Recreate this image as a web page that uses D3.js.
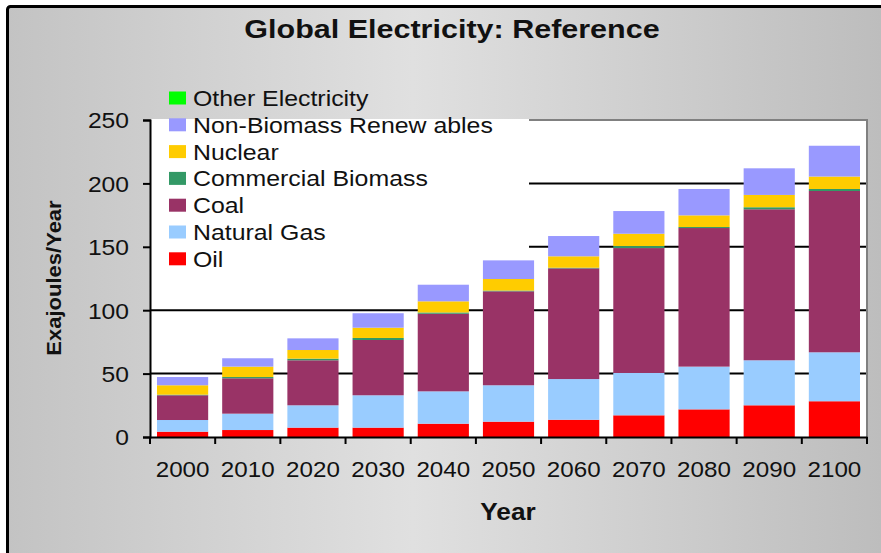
<!DOCTYPE html>
<html>
<head>
<meta charset="utf-8">
<script src="https://cdn.jsdelivr.net/npm/d3@7"></script>
<style>
  html, body { margin: 0; padding: 0; background: #ffffff; }
  svg { display: block; }
  text { font-family: "Liberation Sans", Arial, sans-serif; fill: #111; }
</style>
</head>
<body>
<svg id="chart" width="881" height="553"></svg>
<script>
// ---------- data ----------
const years = ["2000","2010","2020","2030","2040","2050","2060","2070","2080","2090","2100"];
const oil          = [4.2, 5.5, 7.4, 7.4, 10.5, 12.1, 13.6, 17.1, 21.8, 25.0, 28.2];
const naturalGas   = [9.2, 12.9, 17.6, 25.5, 25.5, 28.7, 32.1, 33.4, 33.7, 35.5, 38.6];
const coal         = [19.5, 27.9, 35.5, 43.6, 61.2, 74.1, 87.3, 98.5, 109.3, 119.1, 127.2];
const commercialBiomass = [0.5, 1.0, 1.3, 1.6, 1.0, 0.6, 0.5, 1.6, 0.8, 1.6, 1.6];
const nuclear      = [7.4, 8.2, 6.8, 8.1, 8.8, 9.1, 9.0, 9.7, 9.2, 9.7, 9.8];
const nonBiomassRenewables = [6.5, 6.6, 9.2, 11.4, 13.1, 14.7, 16.0, 17.9, 20.8, 21.0, 24.3];
const otherElectricity = [0, 0, 0, 0, 0, 0, 0, 0, 0, 0, 0];
const seriesNames  = ["Oil", "Natural Gas", "Coal", "Commercial Biomass", "Nuclear", "Non-Biomass Renew ables", "Other Electricity"];
const seriesColors = ["#FF0000", "#99CCFF", "#993366", "#339966", "#FFCC00", "#9999FF", "#00FF00"];
const yTicks = [0, 50, 100, 150, 200, 250];
const titleText = "Global Electricity: Reference";
const xTitle = "Year";
const yTitle = "Exajoules/Year";

// ---------- build ----------
const seriesValues = [oil, naturalGas, coal, commercialBiomass, nuclear, nonBiomassRenewables, otherElectricity];
const keys = seriesNames;
const rows = years.map((y, i) => {
  const r = { year: y };
  keys.forEach((k, j) => r[k] = seriesValues[j][i]);
  return r;
});
const stacked = d3.stack().keys(keys)(rows);

const svg = d3.select("#chart");
const W = 881, H = 553;
const plot = { left: 150, right: 867, top: 120, bottom: 437 };

function stretch(sel, f) {
  sel.each(function () {
    const len = this.getComputedTextLength();
    d3.select(this).attr("textLength", len * f).attr("lengthAdjust", "spacingAndGlyphs");
  });
}

// background gradient
const defs = svg.append("defs");
const grad = defs.append("linearGradient").attr("id", "bg").attr("x1", "0").attr("x2", "1").attr("y1", "0").attr("y2", "0");
grad.append("stop").attr("offset", "0%").attr("stop-color", "#c3c3c3");
grad.append("stop").attr("offset", "45%").attr("stop-color", "#e0e0e0");
grad.append("stop").attr("offset", "100%").attr("stop-color", "#bbbbbb");

svg.append("rect").attr("x", 0).attr("y", 0).attr("width", W).attr("height", H).attr("fill", "#ffffff");
svg.append("rect").attr("x", 7.5).attr("y", 6.5).attr("width", W + 20).attr("height", H + 20)
  .attr("rx", 3).attr("fill", "url(#bg)").attr("stroke", "#000").attr("stroke-width", 3);

// plot area
svg.append("rect").attr("x", plot.left).attr("y", plot.top)
  .attr("width", plot.right - plot.left).attr("height", plot.bottom - plot.top)
  .attr("fill", "#ffffff");

const x = d3.scaleBand().domain(years).range([plot.left, plot.right]).paddingInner(0.215).paddingOuter(0.1075);
const y = d3.scaleLinear().domain([0, 250]).range([plot.bottom, plot.top]);

// gridlines
svg.append("g").selectAll("line").data(yTicks.filter(d => d > 0)).join("line")
  .attr("x1", plot.left).attr("x2", plot.right)
  .attr("y1", d => y(d)).attr("y2", d => y(d))
  .attr("stroke", d => d === 250 ? "#808080" : "#000").attr("stroke-width", 2);

// plot border right
svg.append("line").attr("x1", plot.right).attr("x2", plot.right).attr("y1", plot.top - 1).attr("y2", plot.bottom)
  .attr("stroke", "#808080").attr("stroke-width", 2);

// legend white box covering gridlines
svg.append("rect").attr("x", plot.left + 1).attr("y", plot.top - 1).attr("width", 378).attr("height", 152).attr("fill", "#ffffff");

// bars
svg.append("g").selectAll("g").data(stacked).join("g")
  .attr("fill", (d, i) => seriesColors[i])
  .selectAll("rect").data(d => d).join("rect")
  .attr("x", d => x(d.data.year))
  .attr("width", x.bandwidth())
  .attr("y", d => y(d[1]))
  .attr("height", d => Math.max(0, y(d[0]) - y(d[1])));

// axes
const yAxis = svg.append("g").attr("transform", `translate(${plot.left},0)`)
  .call(d3.axisLeft(y).tickValues(yTicks).tickSize(7).tickPadding(14));
yAxis.select(".domain").attr("stroke", "#000").attr("stroke-width", 2);
yAxis.selectAll(".tick line").attr("stroke", "#000").attr("stroke-width", 2);
yAxis.selectAll(".tick text").attr("font-size", 22).attr("font-family", "Liberation Sans, Arial, sans-serif")
  .attr("fill", "#111").attr("dy", "0.36em").call(stretch, 1.12);

const xAxis = svg.append("g").attr("transform", `translate(0,${plot.bottom})`)
  .call(d3.axisBottom(x).tickSize(0).tickPadding(24));
xAxis.select(".domain").attr("stroke", "#000").attr("stroke-width", 2);
xAxis.selectAll(".tick text").attr("font-size", 22).attr("font-family", "Liberation Sans, Arial, sans-serif")
  .attr("fill", "#111").call(stretch, 1.1);
// category boundary ticks
const bounds = years.map(yr => x(yr) - x.step() * x.paddingInner() / 2).concat([plot.right]);
bounds[0] = plot.left;
svg.append("g").selectAll("line").data(bounds).join("line")
  .attr("x1", d => d).attr("x2", d => d).attr("y1", plot.bottom).attr("y2", plot.bottom + 7)
  .attr("stroke", "#000").attr("stroke-width", 2);

// legend
const legendItems = keys.map((k, i) => ({ name: k, color: seriesColors[i] })).reverse();
const lg = svg.append("g").selectAll("g").data(legendItems).join("g")
  .attr("transform", (d, i) => `translate(169,${98 + i * 26.8})`);
lg.append("rect").attr("x", 0).attr("y", -6.5).attr("width", 17).attr("height", 13).attr("fill", d => d.color);
lg.append("text").attr("x", 24).attr("y", 0).attr("dy", "0.36em").attr("font-size", 22)
  .text(d => d.name).call(stretch, 1.13);

// titles
svg.append("text").attr("x", 452).attr("y", 38).attr("text-anchor", "middle")
  .attr("font-size", 25).attr("font-weight", "bold").text(titleText).call(stretch, 1.22);
svg.append("text").attr("x", 508).attr("y", 520).attr("text-anchor", "middle")
  .attr("font-size", 23).attr("font-weight", "bold").text(xTitle).call(stretch, 1.14);
svg.append("text").attr("transform", "translate(61,278) rotate(-90)").attr("text-anchor", "middle")
  .attr("font-size", 20).attr("font-weight", "bold").text(yTitle).call(stretch, 1.1);
</script>
</body>
</html>
